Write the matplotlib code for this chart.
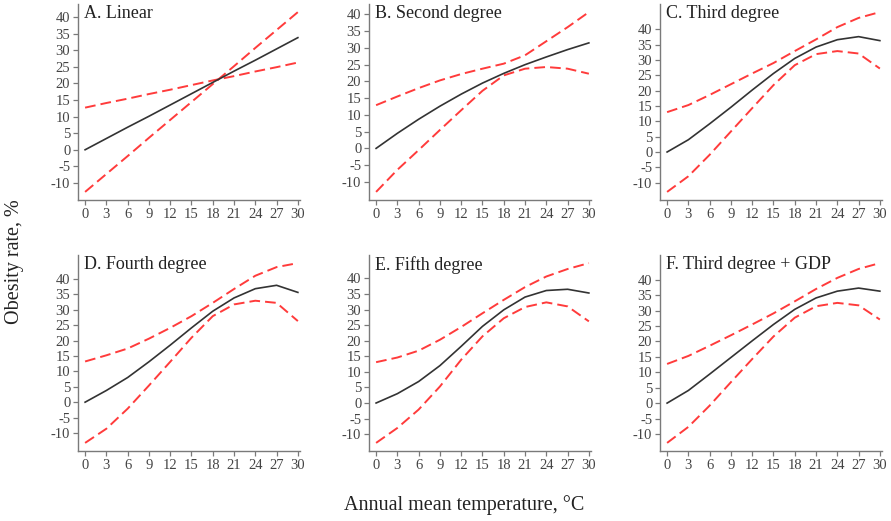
import matplotlib
matplotlib.use("Agg")
import matplotlib.pyplot as plt

plt.rcParams["font.family"] = ["Liberation Serif", "DejaVu Serif"]
plt.rcParams["axes.unicode_minus"] = False

TEMP = [0, 3, 6, 9, 12, 15, 18, 21, 24, 27, 30]

TITLES = ["A. Linear", "B. Second degree", "C. Third degree",
          "D. Fourth degree", "E. Fifth degree", "F. Third degree + GDP"]

# predicted obesity rate and 95% CI bounds, one list per model
FIT_A = [0, 3.4, 6.8, 10.1, 13.5, 16.9, 20.3, 23.7, 27.0, 30.4, 33.8]
LO_A = [12.7, 14.1, 15.4, 16.8, 18.1, 19.5, 20.9, 22.2, 23.6, 24.9, 26.3]
HI_A = [-12.7, -7.3, -1.9, 3.6, 9.0, 14.4, 19.8, 25.2, 30.7, 36.1, 41.5]

FIT_B = [0, 4.5, 8.7, 12.6, 16.2, 19.5, 22.4, 25.0, 27.3, 29.5, 31.5]
HI_B = [12.9, 15.5, 18.0, 20.3, 22.2, 23.8, 25.3, 27.8, 32.0, 36.2, 40.7]
LO_B = [-13.0, -6.4, -0.5, 5.5, 11.4, 17.2, 21.8, 23.8, 24.3, 23.8, 22.3]

FIT_C = [0, 4.0, 9.2, 14.6, 20.2, 25.6, 30.5, 34.2, 36.6, 37.6, 36.3]
HI_C = [13.0, 15.3, 18.6, 22.1, 25.6, 29.0, 32.9, 36.7, 40.7, 43.7, 45.6]
LO_C = [-13.0, -7.9, -0.9, 6.7, 14.3, 21.8, 28.3, 31.9, 32.9, 32.1, 27.2]

FIT_D = [0, 3.8, 8.0, 13.1, 18.5, 24.1, 29.5, 33.8, 36.8, 37.9, 35.6]
HI_D = [13.2, 15.2, 17.4, 20.6, 24.1, 27.9, 32.2, 36.7, 41.0, 43.8, 45.1]
LO_D = [-13.2, -8.6, -2.1, 5.4, 13.1, 20.9, 27.9, 31.7, 32.9, 32.2, 26.3]

FIT_E = [0, 3.0, 6.9, 12.0, 18.2, 24.6, 29.9, 34.0, 36.1, 36.5, 35.3]
HI_E = [13.1, 14.6, 16.8, 20.3, 24.4, 28.8, 33.1, 37.2, 40.6, 43.0, 44.9]
LO_E = [-12.8, -8.0, -2.1, 5.3, 13.9, 21.4, 27.2, 30.8, 32.3, 31.0, 26.2]

FIT_F = [0, 4.1, 9.4, 14.8, 20.2, 25.5, 30.4, 34.1, 36.3, 37.3, 36.3]
HI_F = [12.7, 15.3, 18.6, 22.0, 25.5, 29.1, 33.0, 37.0, 40.6, 43.5, 45.4]
LO_F = [-12.9, -7.7, -0.8, 6.8, 14.3, 21.6, 27.7, 31.4, 32.5, 31.7, 27.1]

FITS = [FIT_A, FIT_B, FIT_C, FIT_D, FIT_E, FIT_F]
HIS = [HI_A, HI_B, HI_C, HI_D, HI_E, HI_F]
LOS = [LO_A, LO_B, LO_C, LO_D, LO_E, LO_F]

W, H = 891, 521
COL_LEFT = [78, 369, 660]
COL_W = 222
ROW_TOP = [4, 255]
ROW_H = 196

GRAY = "#7a7a7a"
RED = "#ff3b3b"

fig = plt.figure(figsize=(W / 100, H / 100), dpi=100)

for i in range(6):
    r, c = divmod(i, 3)
    left = COL_LEFT[c] / W
    bottom = 1 - (ROW_TOP[r] + ROW_H) / H
    ax = fig.add_axes([left, bottom, COL_W / W, ROW_H / H])

    ax.plot(TEMP, HIS[i], color=RED, lw=1.4, dashes=(5.5, 2.6))
    ax.plot(TEMP, LOS[i], color=RED, lw=1.4, dashes=(5.5, 2.6))
    ax.plot(TEMP, FITS[i], color="#333333", lw=1.2)

    ax.set_xlim(-1, 30.3)
    ax.margins(y=0.045)
    ax.set_xticks(TEMP)
    ax.set_yticks(range(-10, 45, 5))

    for side in ["top", "right"]:
        ax.spines[side].set_visible(False)
    for side in ["left", "bottom"]:
        ax.spines[side].set_color(GRAY)
        ax.spines[side].set_linewidth(1.0)
    ax.tick_params(direction="out", length=3.5, width=0.9, color=GRAY,
                   labelcolor="#444444", labelsize=10.5, pad=2)

    ax.text(0.025, 0.995, TITLES[i], transform=ax.transAxes, ha="left",
            va="top", fontsize=13, color="#222222")

fig.text(14 / W, 1 - 262 / H, "Obesity rate, %", rotation=90, ha="center",
         va="center", fontsize=14.5, color="#222222")
fig.text(464 / W, 1 - 505 / H, "Annual mean temperature, \u00b0C", ha="center",
         va="center", fontsize=14.5, color="#222222")

fig.savefig("out.png", dpi=100)
